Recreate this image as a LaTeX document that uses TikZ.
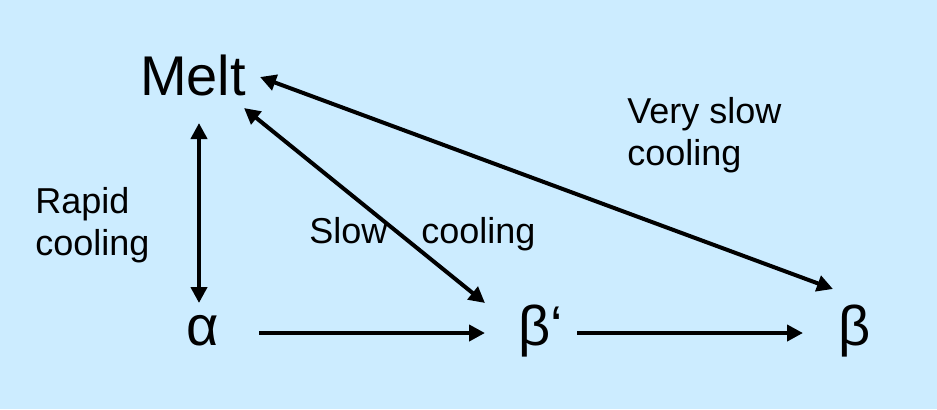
\documentclass[tikz,border=0pt]{standalone}
\usepackage{fontspec}
\setmainfont{Liberation Sans}
\usetikzlibrary{arrows.meta}
\definecolor{bgblue}{HTML}{CCECFF}

\begin{document}
\begin{tikzpicture}[x=0.5pt,y=-0.5pt,
  big/.style={inner sep=0,anchor=base,font=\fontsize{28}{34}\selectfont},
  lbl/.style={inner sep=0,anchor=north west,align=left,font=\fontsize{18}{21}\selectfont},
  pil/.style={line width=2pt,-{Triangle[length=8pt,width=8pt]}},
  dbl/.style={line width=2pt,{Triangle[length=8pt,width=8pt]}-{Triangle[length=8pt,width=8pt]}}]

\fill[bgblue] (0,0) rectangle (937,409);

% the four states
\node[big] (melt) at (193,95) {Melt};
\node[big] (alpha) at (203,345) {α};
\node[big] (betap) at (541,345) {β‘};
\node[big] (beta) at (855,345) {β};

% the labels
\node[lbl] (rapid) at (35,187) {Rapid\\cooling};
\node[lbl] (veryslow) at (627,97) {Very slow\\cooling};
\node[lbl,anchor=base west] (slow) at (309,243) {Slow\hspace{17pt}cooling};

% arrows
\draw[dbl] ([shift={(6,28)}]melt.base) -- ([shift={(-4,-42)}]alpha.base);
\draw[dbl] ([shift={(51,13)}]melt.base) -- ([shift={(-56,-42)}]betap.base);
\draw[dbl] ([shift={(67,-18)}]melt.base) -- ([shift={(-22,-56)}]beta.base);
\draw[pil] ([shift={(56,-12)}]alpha.base) -- ([shift={(-56,-12)}]betap.base);
\draw[pil] ([shift={(36,-12)}]betap.base) -- ([shift={(-52,-12)}]beta.base);
\end{tikzpicture}
\end{document}
